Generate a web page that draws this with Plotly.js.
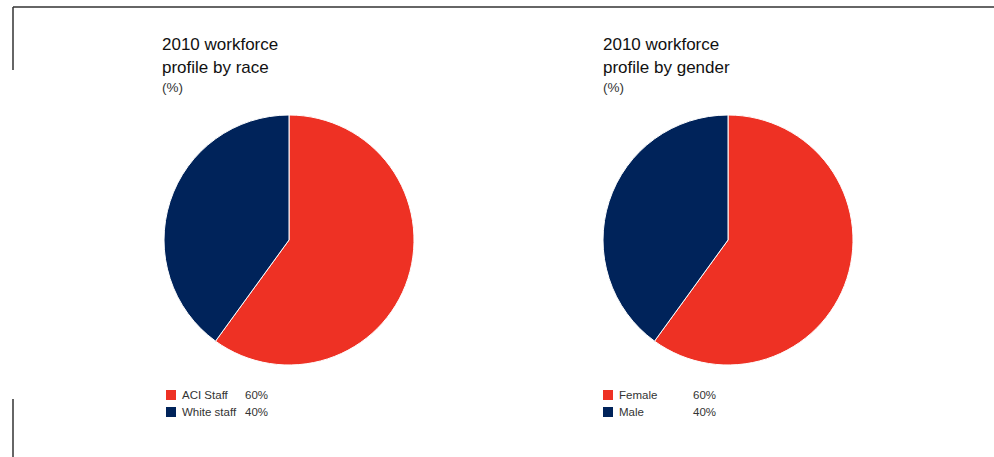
<!DOCTYPE html>
<html>
<head>
<meta charset="utf-8">
<script src="https://cdn.plot.ly/plotly-3.0.1.min.js"></script>
<style>html,body{margin:0;padding:0;background:#fff;}#chart{width:994px;height:457px;}</style>
</head>
<body>
<div id="chart"></div>
<script>
const raceLabels = ["ACI Staff", "White staff"];
const raceValues = [60, 40];
const genderLabels = ["Female", "Male"];
const genderValues = [60, 40];
const sliceColors = ["#EE3124", "#00235A"];

const W = 994, H = 457;
const px = x => x / W;
const py = y => 1 - y / H;

function pieTrace(labels, values, x0, x1) {
  return {
    type: "pie", labels: labels, values: values, sort: false,
    direction: "clockwise", rotation: 0, textinfo: "none", hoverinfo: "none",
    marker: {colors: sliceColors, line: {color: "#ffffff", width: 1}},
    domain: {x: [px(x0), px(x1)], y: [py(365), py(115)]},
    showlegend: false
  };
}

const data = [
  pieTrace(raceLabels, raceValues, 164, 414),
  pieTrace(genderLabels, genderValues, 603, 853)
];

const annotations = [];
const shapes = [
  {type: "line", xref: "paper", yref: "paper", x0: px(13), x1: px(994), y0: py(7), y1: py(7), line: {color: "#333", width: 1.5}},
  {type: "line", xref: "paper", yref: "paper", x0: px(13), x1: px(13), y0: py(7), y1: py(70), line: {color: "#333", width: 1.5}},
  {type: "line", xref: "paper", yref: "paper", x0: px(13), x1: px(13), y0: py(399), y1: py(457), line: {color: "#333", width: 1.5}}
];

function addTitle(x, l1, l2) {
  annotations.push({xref: "paper", yref: "paper", x: px(x), y: py(45), xanchor: "left", yanchor: "middle", showarrow: false, text: l1, font: {family: "Liberation Sans, Arial", size: 17, color: "#111"}});
  annotations.push({xref: "paper", yref: "paper", x: px(x), y: py(67), xanchor: "left", yanchor: "middle", showarrow: false, text: l2, font: {family: "Liberation Sans, Arial", size: 17, color: "#111"}});
  annotations.push({xref: "paper", yref: "paper", x: px(x), y: py(88), xanchor: "left", yanchor: "middle", showarrow: false, text: "(%)", font: {family: "Liberation Sans, Arial", size: 13.5, color: "#333"}});
}
addTitle(160, "2010 workforce", "profile by race");
addTitle(601, "2010 workforce", "profile by gender");

function addLegend(sqX, textX, valX, labels, values) {
  const ys = [395, 412];
  labels.forEach((lab, i) => {
    const y = ys[i];
    shapes.push({type: "rect", xref: "paper", yref: "paper", x0: px(sqX), x1: px(sqX + 10), y0: py(y - 5), y1: py(y + 5), fillcolor: sliceColors[i], line: {width: 0}});
    annotations.push({xref: "paper", yref: "paper", x: px(textX), y: py(y), xanchor: "left", yanchor: "middle", showarrow: false, text: lab, font: {family: "Liberation Sans, Arial", size: 11.5, color: "#333"}});
    annotations.push({xref: "paper", yref: "paper", x: px(valX), y: py(y), xanchor: "left", yanchor: "middle", showarrow: false, text: values[i] + "%", font: {family: "Liberation Sans, Arial", size: 11.5, color: "#333"}});
  });
}
addLegend(166, 180, 243, raceLabels, raceValues);
addLegend(603, 617, 691, genderLabels, genderValues);

const layout = {
  width: W, height: H, margin: {l: 0, r: 0, t: 0, b: 0},
  paper_bgcolor: "#fff", plot_bgcolor: "#fff",
  showlegend: false, annotations: annotations, shapes: shapes
};
Plotly.newPlot("chart", data, layout, {displayModeBar: false, staticPlot: true});
</script>
</body>
</html>
